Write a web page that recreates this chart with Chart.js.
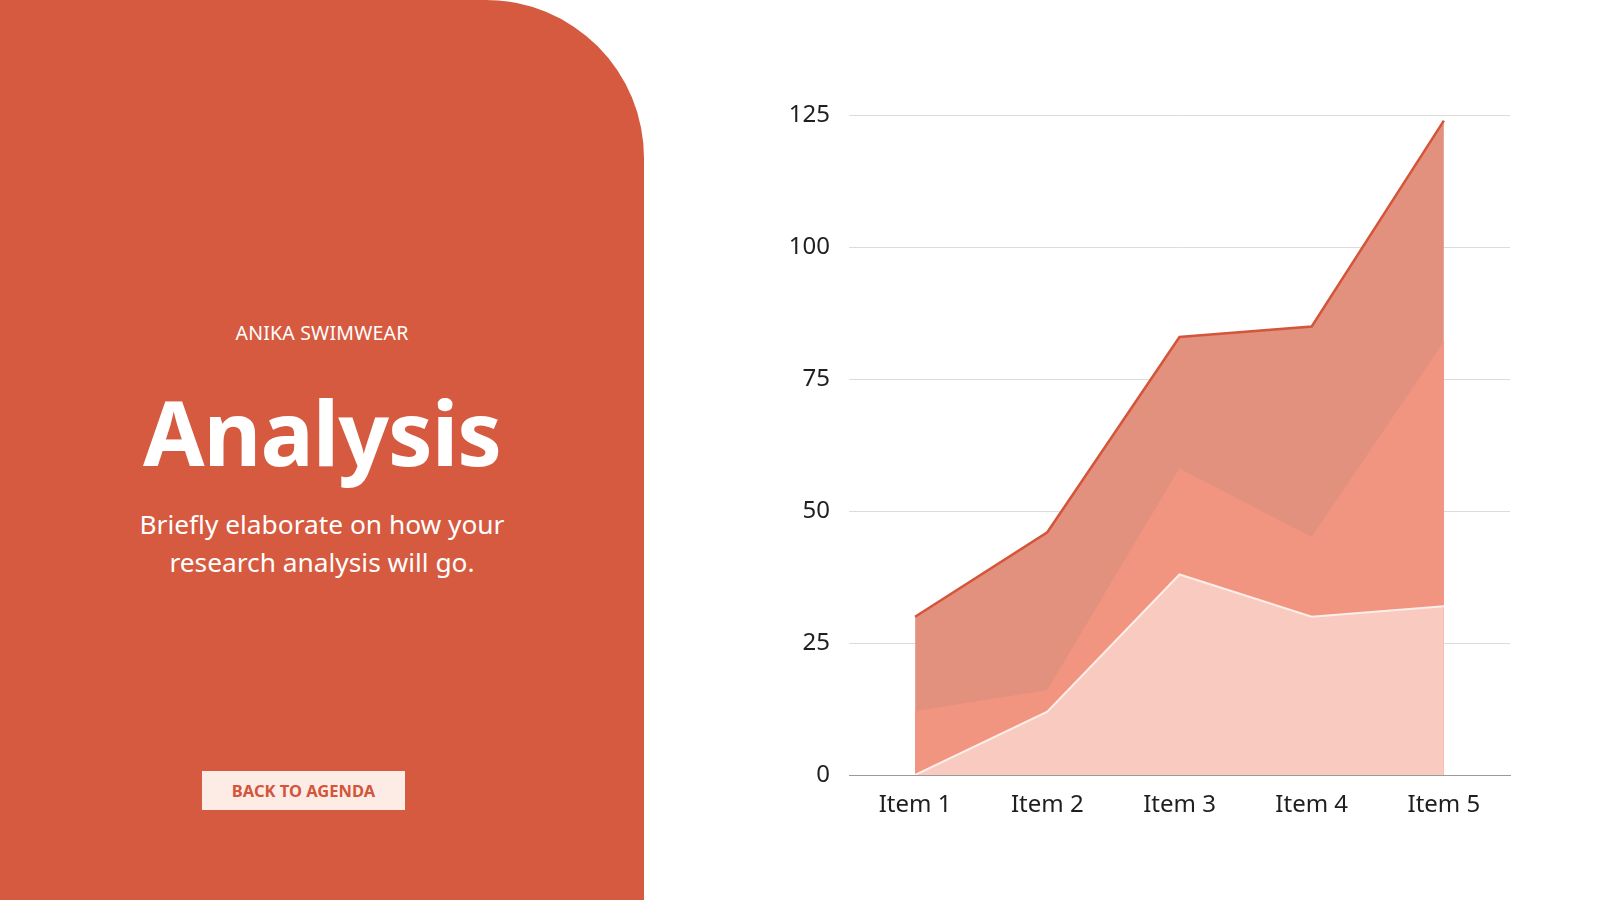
<!DOCTYPE html>
<html>
<head>
<meta charset="utf-8">
<script src="https://cdn.jsdelivr.net/npm/chart.js@4.4.1/dist/chart.umd.min.js"></script>
<style>
  html, body { margin: 0; padding: 0; background: #fff; }
  body { width: 1600px; height: 900px; position: relative; overflow: hidden; font-family: "Noto Sans", "Open Sans", sans-serif; }
  .panel {
    position: absolute; left: 0; top: 0; width: 644px; height: 900px;
    background: #d65a3f; border-top-right-radius: 158px;
    color: #fff; text-align: center;
  }
  .brand { position: absolute; left: 0; width: 644px; top: 319px; font-size: 19.5px; letter-spacing: 0.2px; }
  .title { position: absolute; left: 0; width: 644px; top: 371px; font-size: 89px; font-weight: 700; letter-spacing: -1px; }
  .sub { position: absolute; left: 0; width: 644px; top: 505px; font-size: 26.3px; line-height: 38px; font-weight: 400; }
  .btn {
    position: absolute; left: 202px; top: 771px; width: 203px; height: 39px;
    background: #fdebe5; color: #d3553a; font-size: 16.5px; font-weight: 700;
    line-height: 39px; text-align: center;
  }
  .chart-box { position: absolute; left: 780px; top: 82px; width: 750px; height: 768px; }
</style>
</head>
<body>
<div class="panel">
  <div class="brand">ANIKA SWIMWEAR</div>
  <div class="title">Analysis</div>
  <div class="sub">Briefly elaborate on how your<br>research analysis will go.</div>
  <div class="btn">BACK TO AGENDA</div>
</div>
<div class="chart-box"><canvas id="areaChart"></canvas></div>
<script>
const categories = ["Item 1", "Item 2", "Item 3", "Item 4", "Item 5"];
const seriesLight = [0, 12, 38, 30, 32];
const seriesMid = [12, 16, 58, 45, 82];
const seriesDark = [30, 46, 83, 85, 124];
const yTicks = [0, 25, 50, 75, 100, 125];

// first dataset is drawn on top, so the lightest area goes first
new Chart(document.getElementById("areaChart"), {
  type: "line",
  data: {
    labels: categories,
    datasets: [
      {
        label: "Series 3",
        data: seriesLight,
        fill: "origin",
        backgroundColor: "#f9cabf",
        borderColor: "#fdeee9",
        borderWidth: 2,
        pointRadius: 0,
        tension: 0,
      },
      {
        label: "Series 2",
        data: seriesMid,
        fill: "origin",
        backgroundColor: "#f29580",
        borderColor: "#f29580",
        borderWidth: 1,
        pointRadius: 0,
        tension: 0,
      },
      {
        label: "Series 1",
        data: seriesDark,
        fill: "origin",
        backgroundColor: "#e3917f",
        borderColor: "#d4553a",
        borderWidth: 2.5,
        pointRadius: 0,
        tension: 0,
      },
    ],
  },
  options: {
    responsive: true,
    maintainAspectRatio: false,
    animation: false,
    layout: { padding: { top: 17, right: 20, left: 0, bottom: 0 } },
    plugins: {
      legend: { display: false },
      tooltip: { enabled: false },
    },
    scales: {
      x: {
        offset: true,
        grid: { display: false, drawTicks: false },
        border: { display: true, color: "#9a9a9a", width: 1 },
        ticks: { color: "#1f1f1f", font: { family: "Noto Sans", size: 24 }, padding: 16 },
        afterFit: (scale) => { scale.height = 75; },
      },
      y: {
        min: 0,
        max: 125,
        afterBuildTicks: (scale) => { scale.ticks = yTicks.map((v) => ({ value: v })); },
        grid: { color: "#dcdcdc", lineWidth: 1, drawTicks: false },
        border: { display: false },
        ticks: { color: "#1f1f1f", font: { family: "Noto Sans", size: 24 }, padding: 19 },
        afterFit: (scale) => { scale.width = 69; },
      },
    },
  },
});
</script>
</body>
</html>
